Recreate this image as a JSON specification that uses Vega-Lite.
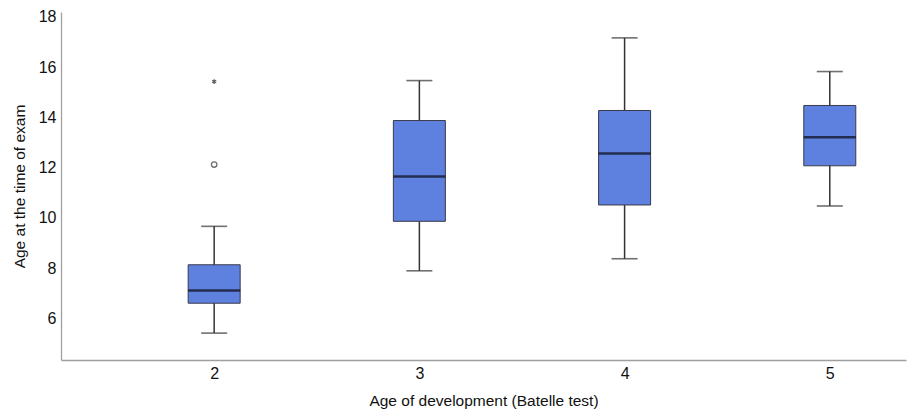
{
  "$schema": "https://vega.github.io/schema/vega-lite/v6.json",
  "width": 845,
  "height": 348,
  "autosize": {"type": "none"},
  "padding": {"left": 61, "top": 12, "right": 2, "bottom": 54},
  "background": "white",
  "config": {
    "view": {"stroke": null},
    "font": "Liberation Sans",
    "axis": {"grid": false, "ticks": false, "domainColor": "#a0a0a0", "domainWidth": 1.3, "labelFont": "Liberation Sans", "titleFont": "Liberation Sans", "labelColor": "#111111", "titleColor": "#111111", "labelFontSize": 16, "titleFontSize": 15.5, "titleFontWeight": "normal"}
  },
  "datasets": {
    "boxes": [
      {"group": 2, "min": 5.41, "q1": 6.6, "median": 7.11, "q3": 8.13, "max": 9.66},
      {"group": 3, "min": 7.89, "q1": 9.86, "median": 11.64, "q3": 13.87, "max": 15.46},
      {"group": 4, "min": 8.37, "q1": 10.51, "median": 12.56, "q3": 14.27, "max": 17.16},
      {"group": 5, "min": 10.47, "q1": 12.07, "median": 13.21, "q3": 14.47, "max": 15.82}
    ],
    "outliers": [
      {"group": 2, "value": 12.12, "kind": "outlier"},
      {"group": 2, "value": 15.42, "kind": "extreme"}
    ]
  },
  "layer": [
    {
      "data": {"name": "boxes"},
      "mark": {"type": "rule", "color": "#333333", "strokeWidth": 1.5},
      "encoding": {
        "x": {"field": "group", "type": "quantitative", "scale": {"domain": [1.278, 5.347], "nice": false, "zero": false}, "axis": {"values": [2, 3, 4, 5], "format": "d", "title": "Age of development (Batelle test)", "labelPadding": 5, "titlePadding": 12}},
        "y": {"field": "min", "type": "quantitative", "scale": {"domain": [4.34, 18.19], "nice": false, "zero": false}, "axis": {"values": [6, 8, 10, 12, 14, 16, 18], "title": "Age at the time of exam", "labelPadding": 5, "titlePadding": 11}},
        "y2": {"field": "max"}
      }
    },
    {
      "data": {"name": "boxes"},
      "mark": {"type": "tick", "orient": "horizontal", "size": 26, "thickness": 1.6, "color": "#333333"},
      "encoding": {
        "x": {"field": "group", "type": "quantitative"},
        "y": {"field": "min", "type": "quantitative"}
      }
    },
    {
      "data": {"name": "boxes"},
      "mark": {"type": "tick", "orient": "horizontal", "size": 26, "thickness": 1.6, "color": "#333333"},
      "encoding": {
        "x": {"field": "group", "type": "quantitative"},
        "y": {"field": "max", "type": "quantitative"}
      }
    },
    {
      "data": {"name": "boxes"},
      "mark": {"type": "bar", "size": 52, "fill": "#5E80DE", "stroke": "#3a3a4a", "strokeWidth": 1},
      "encoding": {
        "x": {"field": "group", "type": "quantitative"},
        "y": {"field": "q1", "type": "quantitative"},
        "y2": {"field": "q3"}
      }
    },
    {
      "data": {"name": "boxes"},
      "mark": {"type": "tick", "orient": "horizontal", "size": 52, "thickness": 2.5, "color": "#0a0a14"},
      "encoding": {
        "x": {"field": "group", "type": "quantitative"},
        "y": {"field": "median", "type": "quantitative"}
      }
    },
    {
      "data": {"name": "outliers"},
      "transform": [{"filter": "datum.kind === 'outlier'"}],
      "mark": {"type": "point", "shape": "circle", "filled": false, "size": 30, "stroke": "#333333", "strokeWidth": 1.3},
      "encoding": {
        "x": {"field": "group", "type": "quantitative"},
        "y": {"field": "value", "type": "quantitative"}
      }
    },
    {
      "data": {"name": "outliers"},
      "transform": [{"filter": "datum.kind === 'extreme'"}],
      "mark": {"type": "point", "shape": "M0,-1L0,1M-0.87,-0.5L0.87,0.5M-0.87,0.5L0.87,-0.5", "filled": false, "size": 22, "stroke": "#222222", "strokeWidth": 1.3},
      "encoding": {
        "x": {"field": "group", "type": "quantitative"},
        "y": {"field": "value", "type": "quantitative"}
      }
    }
  ]
}
